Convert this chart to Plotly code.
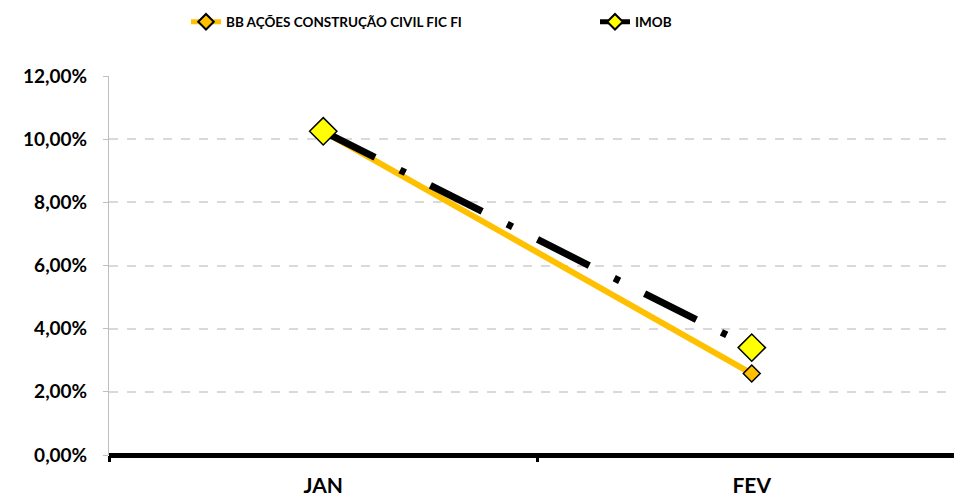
import plotly.graph_objects as go

categories = ["JAN", "FEV"]
bb_values = [0.1025, 0.0258]
imob_values = [0.1025, 0.0340]
y_ticks = [0, 0.02, 0.04, 0.06, 0.08, 0.10, 0.12]

FONT = "Lato"
W, H = 954, 499

fig = go.Figure()
fig.add_trace(go.Scatter(
    x=categories, y=bb_values, name="BB AÇÕES CONSTRUÇÃO CIVIL FIC FI",
    mode="lines+markers", legend="legend",
    line=dict(color="#FFC000", width=6),
    marker=dict(symbol="diamond", size=13, color="#FFC000", line=dict(color="black", width=1.5)),
))
fig.add_trace(go.Scatter(
    x=categories, y=imob_values, name="IMOB",
    mode="lines+markers", legend="legend2",
    line=dict(color="black", width=7, dash="58px,28px,6px,28px"),
    marker=dict(symbol="diamond", size=21, color="#FFFF00", line=dict(color="black", width=1.5)),
))

legend_font = dict(family=FONT, size=13.5, color="black", weight="bold")
fig.update_layout(
    width=W, height=H,
    margin=dict(l=109, r=0, t=76, b=44),
    paper_bgcolor="white", plot_bgcolor="white",
    separators=",.",
    showlegend=True,
    legend=dict(orientation="h", x=186 / W, xanchor="left", y=1 - 22 / H, yanchor="middle",
                xref="container", yref="container", font=legend_font, itemsizing="constant",
                bgcolor="rgba(0,0,0,0)"),
    legend2=dict(orientation="h", x=595 / W, xanchor="left", y=1 - 22 / H, yanchor="middle",
                 xref="container", yref="container", font=legend_font, itemsizing="constant",
                 bgcolor="rgba(0,0,0,0)"),
    font=dict(family=FONT, color="black"),
)

fig.update_xaxes(
    type="category", range=[-0.5, 1.472], automargin=False,
    tickson="boundaries", ticks="outside", ticklen=6, tickwidth=3, tickcolor="black",
    ticklabelstandoff=16,
    showline=False, showgrid=False, zeroline=False,
    tickfont=dict(family=FONT, size=21, color="black", weight="bold"),
)
fig.update_yaxes(
    range=[0, 0.12], tickvals=y_ticks, tickformat=".2%", automargin=False,
    showgrid=True, gridcolor="#D9D9D9", griddash="dash", gridwidth=1.5,
    showline=True, linecolor="#BFBFBF", linewidth=1,
    ticks="outside", ticklen=5, tickcolor="#BFBFBF",
    ticklabelstandoff=12,
    zeroline=True, zerolinecolor="black", zerolinewidth=5,
    tickfont=dict(family=FONT, size=19, color="black", weight="bold"),
)

fig.write_html("out.html", config={"displayModeBar": False},
               post_script="document.body.style.margin='0';document.body.style.overflow='hidden';")
